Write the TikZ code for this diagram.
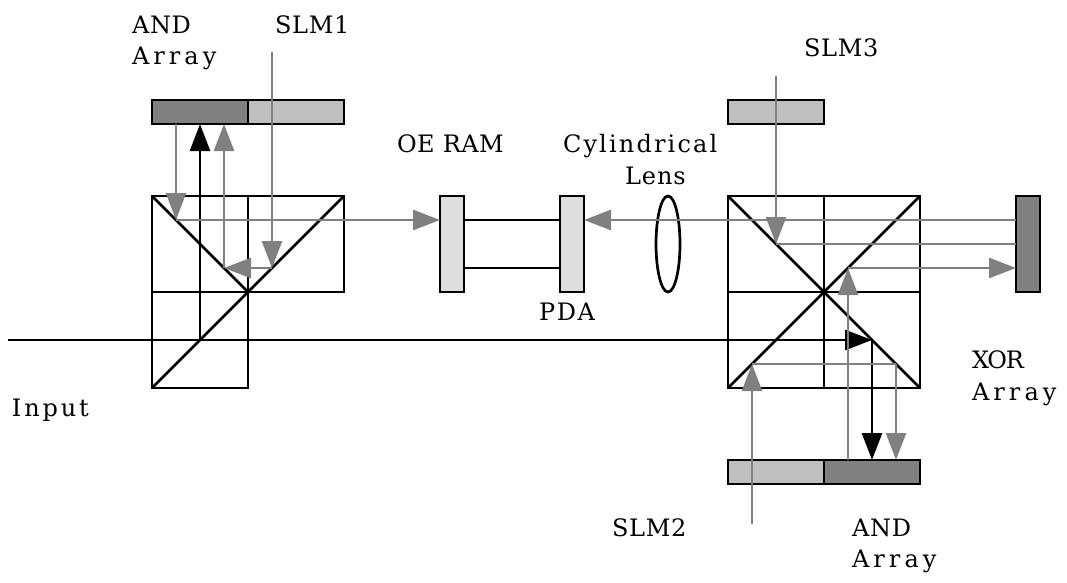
\documentclass[tikz,border=0pt]{standalone}
\usepackage{fontspec}
\setmainfont{DejaVu Serif}
\usetikzlibrary{arrows.meta,shapes.geometric}
\definecolor{ray}{gray}{0.5}
\definecolor{dk}{gray}{0.5}
\definecolor{lt}{gray}{0.75}
\definecolor{pale}{gray}{0.87}
\newcommand{\spc}[2]{{\addfontfeature{LetterSpace=#1}#2}}
\tikzset{
 x=1pt,y=-1pt,
 every path/.style={line width=2.7pt},
 box/.style={draw=black,line width=2.7pt,inner sep=0pt,outer sep=0pt,minimum width=#1},
 box/.default=96pt,
 hbar/.style={box=96pt,minimum height=24pt},
 vbar/.style={box=24pt,minimum height=96pt},
 cell/.style={box=96pt,minimum height=96pt},
 lab/.style={inner sep=0pt,outer sep=0pt,font=\fontsize{24}{31}\selectfont,anchor=base west,text=black},
 grayray/.style={draw=ray,line width=2.5pt},
 blackray/.style={draw=black,line width=2.7pt},
 tip/.style={-{Triangle[length=27pt,width=20pt]}}
}
\begin{document}
\begin{tikzpicture}
\useasboundingbox (0,0) rectangle (1067,582);
% left cube
\node[cell] (l1) at (200,244) {};
\node[cell] (l2) at (296,244) {};
\node[cell] (l3) at (200,340) {};
\draw (l1.north west) -- (l2.south west);
\draw (l2.north east) -- (l3.south west);
% left bar
\node[hbar,fill=dk] (andA) at (200,112) {};
\node[hbar,fill=lt] (slmA) at (296,112) {};
% right cube
\node[cell] (r1) at (776,244) {};
\node[cell] (r2) at (872,244) {};
\node[cell] (r3) at (776,340) {};
\node[cell] (r4) at (872,340) {};
\draw (r1.north west) -- (r4.south east);
\draw (r2.north east) -- (r3.south west);
% bars on right
\node[hbar,fill=lt] (slmC) at (776,112) {};
\node[hbar,fill=lt] (slmB) at (776,472) {};
\node[hbar,fill=dk] (andB) at (872,472) {};
\node[vbar,fill=dk] (xor) at (1028,244) {};
% OE RAM / PDA
\node[vbar,fill=pale] (ram) at (452,244) {};
\node[vbar,fill=pale] (pda) at (572,244) {};
\draw (ram.east |- 0,220) -- (pda.west |- 0,220);
\draw (ram.east |- 0,268) -- (pda.west |- 0,268);
\node[draw=black,line width=2.7pt,ellipse,inner sep=0pt,outer sep=0pt,minimum width=24pt,minimum height=96pt] (lens) at (668,244) {};
% coordinates
\coordinate (inS) at (8,340);
\coordinate (bs1) at (200,340);
\coordinate (bs2) at (872,340);
\coordinate (g1) at (176,220);
\coordinate (g2) at (224,268);
\coordinate (g3) at (272,268);
\coordinate (slm1top) at (272,52);
\coordinate (slm3top) at (776,76);
\coordinate (g4) at (776,244);
\coordinate (g5) at (848,268);
\coordinate (slm2bot) at (752,524);
\coordinate (g6) at (752,364);
\coordinate (g7) at (896,364);
% black rays
\draw[blackray] (inS) -- (bs1);
\draw[blackray,tip] (bs1) -- (200,124);
\draw[blackray,tip] (bs1) -- (bs2);
\draw[blackray,tip] (bs2) -- (andB.north -| bs2);
% gray rays left
\draw[grayray,tip] (g1 |- andA.south) -- (g1);
\draw[grayray,tip] (g1) -- (ram.west |- g1);
\draw[grayray,tip] (g2) -- (g2 |- andA.south);
\draw[grayray,tip] (slm1top) -- (g3);
\draw[grayray,tip] (g3) -- (g2);
% gray rays right
\draw[grayray,tip] (xor.west |- 0,220) -- (pda.east |- 0,220);
\draw[grayray,tip] (slm3top) -- (g4);
\draw[grayray] (g4) -- (xor.west |- g4);
\draw[grayray,tip] (g5) -- (xor.west |- g5);
\draw[grayray,tip] (andB.north -| g5) -- (g5);
\draw[grayray,tip] (slm2bot) -- (g6);
\draw[grayray] (g6) -- (g7);
\draw[grayray,tip] (g7) -- (andB.north -| g7);
% labels
\node[lab] (t1a) at (132,33) {\spc{3}{AND}};
\node[lab] (t1b) at (132,64) {\spc{17}{Array}};
\node[lab] (t2) at (275,33) {\spc{3}{SLM1}};
\node[lab] (t3) at (397,152) {\spc{2}{OE RAM}};
\node[lab] (t4a) at (563,152) {\spc{9}{Cylindrical}};
\node[lab] (t4b) at (625,184) {\spc{4}{Lens}};
\node[lab] (t5) at (539,320) {\spc{7}{PDA}};
\node[lab] (t6) at (12,416) {\spc{12}{Input}};
\node[lab] (t7) at (804,56) {\spc{3}{SLM3}};
\node[lab] (t8) at (612,536) {\spc{3}{SLM2}};
\node[lab] (t9a) at (972,368) {\spc{-5}{XOR}};
\node[lab] (t9b) at (972,400) {\spc{17}{Array}};
\node[lab] (t10a) at (852,536) {\spc{3}{AND}};
\node[lab] (t10b) at (852,567) {\spc{17}{Array}};
\end{tikzpicture}
\end{document}
